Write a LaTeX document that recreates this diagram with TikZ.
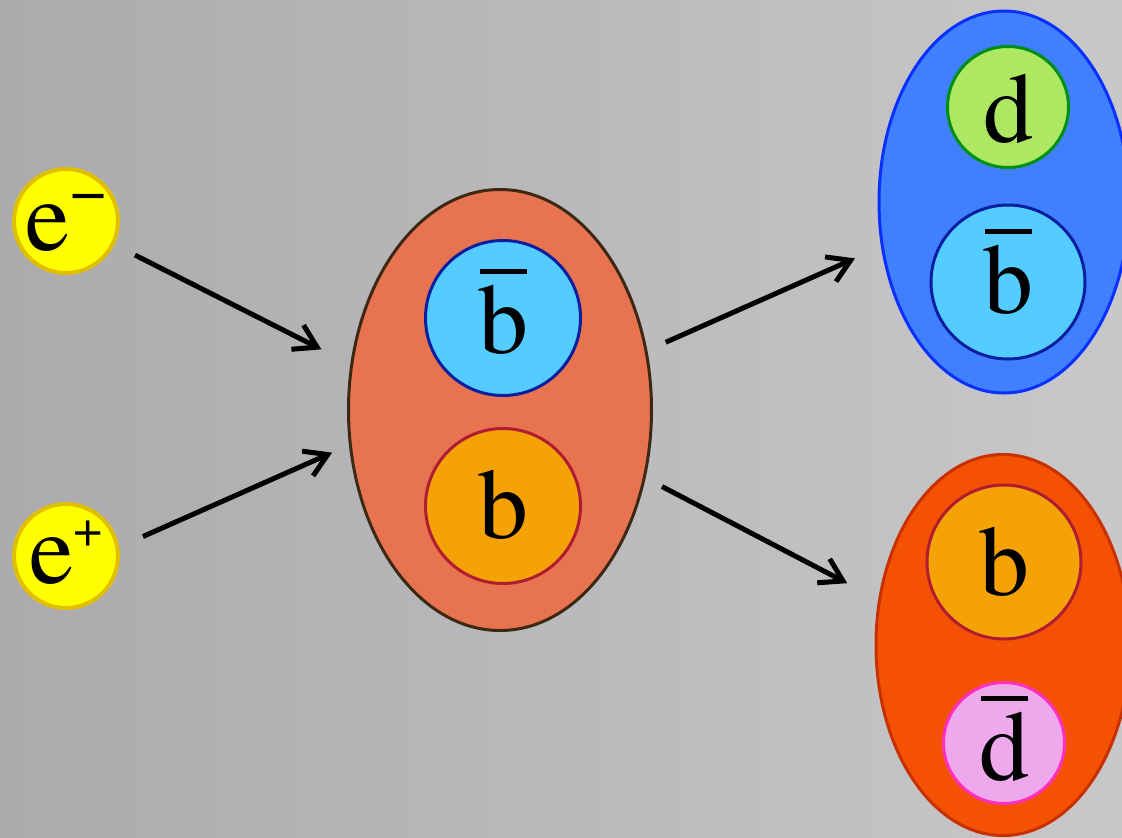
\documentclass[tikz,border=0pt]{standalone}
\usepackage{fontspec}
\newfontfamily\lserif{texgyretermes-regular.otf}
\usetikzlibrary{arrows.meta,shapes.geometric}
\definecolor{bgL}{HTML}{ABABAD}
\definecolor{bgR}{HTML}{C8C8CA}
\definecolor{yel}{HTML}{FFFF00}
\definecolor{yelB}{HTML}{E0BE00}
\definecolor{midF}{HTML}{E87350}
\definecolor{midB}{HTML}{3D2814}
\definecolor{ltblue}{HTML}{55CCFF}
\definecolor{ltblueB}{HTML}{0A1FA0}
\definecolor{orgF}{HTML}{F5A206}
\definecolor{orgB}{HTML}{B01C30}
\definecolor{bluF}{HTML}{4080FF}
\definecolor{bluB}{HTML}{0A30FF}
\definecolor{grnF}{HTML}{AEE862}
\definecolor{grnB}{HTML}{009010}
\definecolor{redF}{HTML}{F55105}
\definecolor{redB}{HTML}{C83000}
\definecolor{pinkF}{HTML}{EEA8EC}
\definecolor{pinkB}{HTML}{FF30C0}
\newcommand{\ovl}[1]{\setbox0\hbox{#1}\vbox{\offinterlineskip\hbox to\wd0{\hss\vrule width 0.94\wd0 height 4.3pt\hss}\kern 11pt\box0}}
\tikzset{
  circ/.style={circle, inner sep=0pt, outer sep=0pt, line width=3pt},
  ell/.style={ellipse, inner sep=0pt, outer sep=0pt, line width=3pt},
  lbl/.style={anchor=base, inner sep=0pt, outer sep=0pt, font=\lserif\fontsize{100}{100}\selectfont},
  arr/.style={line width=5pt, -{Straight Barb[length=22pt,width=27pt]}}
}
\begin{document}
\begin{tikzpicture}[x=1pt,y=-1pt]
\useasboundingbox (0,0) rectangle (1122,838);
\clip (0,0) rectangle (1122,838);
\shade[left color=bgL, right color=bgR] (0,0) rectangle (1122,838);
% electrons
\node[circ, fill=yel, draw=yelB, line width=4pt, minimum size=104pt] (em) at (66,221) {};
\node[lbl] (emt) at (66,250) {e\raisebox{38pt}{\fontsize{64}{64}\selectfont −}};
\node[circ, fill=yel, draw=yelB, line width=4pt, minimum size=104pt] (ep) at (66,556) {};
\node[lbl] (ept) at (66,583) {e\raisebox{37pt}{\fontsize{52}{52}\selectfont +}};
% middle
\node[ell, fill=midF, draw=midB, minimum width=303pt, minimum height=441pt] (mid) at (500,410) {};
\node[circ, fill=ltblue, draw=ltblueB, minimum size=155pt] (mbb) at (503,318) {};
\node[lbl] (mbbt) at (503,353) {\ovl{b}};
\node[circ, fill=orgF, draw=orgB, minimum size=155pt] (mb) at (503,506) {};
\node[lbl] (mbt) at (503,538) {b};
% blue meson
\node[ell, fill=bluF, draw=bluB, minimum width=250pt, minimum height=382pt] (B) at (1004,202) {};
\node[circ, fill=grnF, draw=grnB, minimum size=121pt] (d) at (1008,107) {};
\node[lbl] (dt) at (1008,142) {d};
\node[circ, fill=ltblue, draw=ltblueB, minimum size=154pt] (rbb) at (1008,282) {};
\node[lbl] (rbbt) at (1008,313) {\ovl{b}};
% orange meson
\node[ell, fill=redF, draw=redB, minimum width=254pt, minimum height=381pt] (O) at (1003,645) {};
\node[circ, fill=orgF, draw=orgB, minimum size=154pt] (rb) at (1004,562) {};
\node[lbl] (rbt) at (1004,595) {b};
\node[circ, fill=pinkF, draw=pinkB, minimum size=121pt] (rdd) at (1004,743) {};
\node[lbl] (rddt) at (1004,780) {\ovl{d}};
% arrows
\draw[arr, shorten <=25pt, shorten >=34pt] (em.-26.2) -- (mid.163.5);
\draw[arr, shorten <=28pt, shorten >=20pt] (ep.9.7) -- (mid.193.8);
\draw[arr, shorten <=21.6pt, shorten >=30pt] (mid.22.3) -- (B.200.2);
\draw[arr, shorten <=20pt, shorten >=36.5pt] (mid.-25.7) -- (O.160.5);
\end{tikzpicture}
\end{document}
